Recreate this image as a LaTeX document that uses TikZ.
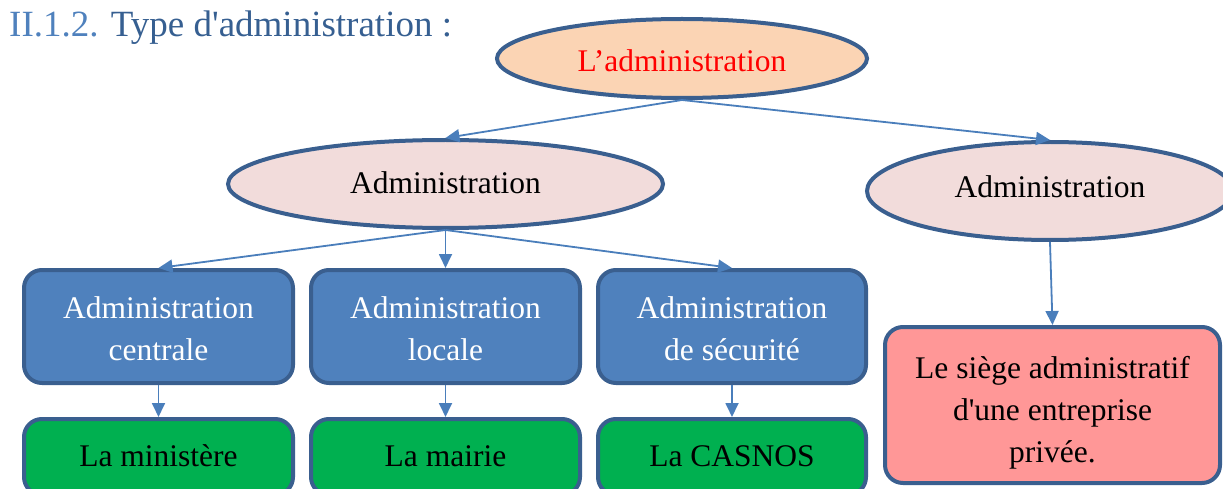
\documentclass[tikz,border=0pt]{standalone}
\usepackage{fontspec}
\setmainfont{Liberation Serif}[Ligatures=TeXOff]
\usetikzlibrary{shapes.geometric,arrows.meta}
\definecolor{bordr}{HTML}{3A5F8F}
\definecolor{peach}{HTML}{FBD4B4}
\definecolor{pinkfill}{HTML}{F2DCDB}
\definecolor{bluefill}{HTML}{4F81BD}
\definecolor{greenfill}{HTML}{00B050}
\definecolor{redfill}{HTML}{FF9797}
\definecolor{arrowblue}{HTML}{4A7EBB}
\definecolor{tlight}{HTML}{4F81BD}
\definecolor{tdark}{HTML}{365F91}
\begin{document}
\begin{tikzpicture}[x=1pt,y=-1pt,
  nodefont/.style={font=\fontsize{31.5}{42}\selectfont},
  ell/.style={ellipse, draw=bordr, line width=4pt, inner sep=0pt, nodefont},
  box/.style={draw=bordr, line width=4pt, rounded corners=18pt, inner sep=0pt, align=center, nodefont},
  bluebox/.style={box, fill=bluefill, text=white, minimum width=269pt, minimum height=113pt, text height=80pt, text depth=13pt},
  greenbox/.style={box, fill=greenfill, text=black, minimum width=269pt, minimum height=76pt, text height=24pt, text depth=6pt},
  conn/.style={draw=arrowblue, line width=1.8pt, -{Triangle[length=14pt,width=13pt]}}
]
\useasboundingbox (0,0) rectangle (1223,489);

\node[anchor=base west, inner sep=0pt, font=\fontsize{37}{44}\selectfont, text=tdark] (title) at (9,37)
  {\textcolor{tlight}{II.1.2.} Type d'administration :};

\node[ell, fill=peach, text=red, minimum width=370pt, minimum height=79pt, text height=27pt, text depth=0pt] (top) at (682,58.5) {L’administration};
\node[ell, fill=pinkfill, minimum width=435pt, minimum height=88pt, text height=19pt, text depth=0pt] (left) at (445.5,184) {Administration};
\node[ell, fill=pinkfill, minimum width=366pt, minimum height=98pt, text height=12pt, text depth=0pt] (right) at (1050,191) {Administration};

\node[bluebox] (b1) at (158.5,326.5) {Administration\\centrale};
\node[bluebox] (b2) at (445.5,326.5) {Administration\\locale};
\node[bluebox, minimum width=268pt] (b3) at (732,326.5) {Administration\\de sécurité};

\node[greenbox] (g1) at (158.5,457) {La ministère};
\node[greenbox] (g2) at (445.5,457) {La mairie};
\node[greenbox, minimum width=268pt] (g3) at (732,457) {La CASNOS};

\node[box, fill=redfill, text=black, minimum width=335pt, minimum height=156pt, text height=121pt, text depth=7pt] (red) at (1052.5,405)
  {Le siège administratif\\d'une entreprise\\privée.};

\draw[conn] (top.south) -- (left.north);
\draw[conn] (top.south) -- (right.north);
\draw[conn] (left.south) -- (b1.north);
\draw[conn] (left.south) -- (b2.north);
\draw[conn] (left.south) -- (b3.north);
\draw[conn] (b1.south) -- (g1.north);
\draw[conn] (b2.south) -- (g2.north);
\draw[conn] (b3.south) -- (g3.north);
\draw[conn] (right.south) -- (red.north);
\end{tikzpicture}
\end{document}
